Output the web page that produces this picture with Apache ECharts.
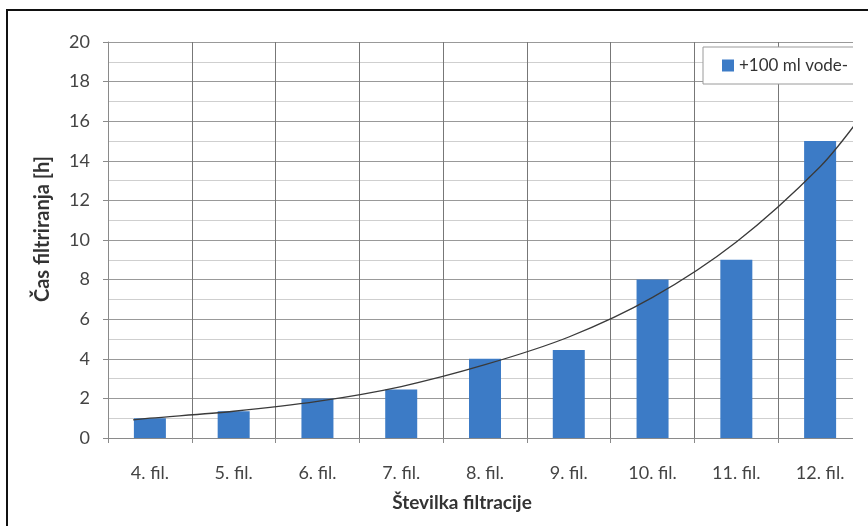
<!DOCTYPE html>
<html>
<head>
<meta charset="utf-8">
<style>
html,body{margin:0;padding:0;background:#fff;}
#chart{width:868px;height:526px;}
</style>
<script src="https://cdn.jsdelivr.net/npm/echarts@6/dist/echarts.min.js"></script>
</head>
<body>
<div id="chart"></div>
<script>
// Data
const categories = ['4. fil.', '5. fil.', '6. fil.', '7. fil.', '8. fil.', '9. fil.', '10. fil.', '11. fil.', '12. fil.'];
const barValues = [1.0, 1.35, 2.0, 2.45, 4.0, 4.45, 8.0, 9.0, 15.0];
const seriesName = '+100 ml vode-';
// trend curve: [position in category units (1 = first category), value]
const trendPoints = [[0.8, 0.92], [1, 1.0], [2, 1.35], [3, 1.85], [4, 2.6], [5, 3.7], [6, 5.1], [7, 7.1], [8, 9.9], [9, 13.7], [9.5, 16.3]];
const yTicks = {min: 0, max: 20, step: 2};

const chart = echarts.init(document.getElementById('chart'), null, {renderer: 'canvas'});
const font = 'Lato, "Open Sans", "Liberation Sans", sans-serif';
chart.setOption({
  backgroundColor: '#ffffff',
  animation: false,
  textStyle: {fontFamily: font},
  grid: {left: 108, top: 42, width: 754, height: 396, containLabel: false},
  legend: {
    data: [seriesName],
    left: 703, top: 47,
    padding: [10, 40, 10, 19],
    itemWidth: 12, itemHeight: 12, icon: 'rect',
    borderColor: '#9a9a9a', borderWidth: 1,
    backgroundColor: '#ffffff',
    textStyle: {fontSize: 17, color: '#333', fontFamily: font}
  },
  xAxis: [{
    type: 'category',
    data: categories,
    boundaryGap: true,
    name: 'Številka filtracije',
    nameLocation: 'middle',
    nameGap: 55,
    nameTextStyle: {fontSize: 19, fontWeight: 'bold', color: '#333', padding: [0, 46, 0, 0]},
    axisLine: {show: true, lineStyle: {color: '#8a8a8a', width: 1}},
    axisTick: {show: true, length: 5, lineStyle: {color: '#8a8a8a'}},
    axisLabel: {fontSize: 18, color: '#444', margin: 26},
    splitLine: {show: true, lineStyle: {color: '#777', width: 1}}
  }, {
    type: 'value', min: 0.5, max: 9.5, show: false
  }],
  yAxis: {
    type: 'value',
    min: yTicks.min, max: yTicks.max, interval: yTicks.step,
    name: 'Čas filtriranja [h]',
    nameLocation: 'middle',
    nameGap: 55,
    nameRotate: 90,
    nameTextStyle: {fontSize: 20, fontWeight: 'bold', color: '#333', padding: [0, 0, 0, 22]},
    axisLine: {show: true, lineStyle: {color: '#8a8a8a'}},
    axisTick: {show: true, length: 5, lineStyle: {color: '#8a8a8a'}},
    axisLabel: {fontSize: 18, color: '#444', margin: 18},
    splitLine: {show: true, lineStyle: {color: '#999', width: 1}},
    minorTick: {show: false, splitNumber: 2},
    minorSplitLine: {show: true, lineStyle: {color: '#cfcfcf', width: 1}}
  },
  series: [{
    name: seriesName,
    type: 'bar',
    data: barValues,
    barWidth: 32,
    itemStyle: {color: '#3c7bc6'},
    z: 2
  }, {
    name: 'trend',
    type: 'line',
    xAxisIndex: 1,
    data: trendPoints,
    smooth: 0.3,
    symbol: 'none',
    lineStyle: {color: '#3a3a3a', width: 1.3},
    z: 3
  }],
  graphic: [
    {type: 'rect', shape: {x: 853, y: 11, width: 20, height: 520}, style: {fill: '#ffffff'}, z: 100},
    {type: 'line', shape: {x1: 6, y1: 10, x2: 868, y2: 10}, style: {stroke: '#111', lineWidth: 2}, z: 101},
    {type: 'line', shape: {x1: 7, y1: 9, x2: 7, y2: 526}, style: {stroke: '#111', lineWidth: 2}, z: 101}
  ]
});
</script>
</body>
</html>
